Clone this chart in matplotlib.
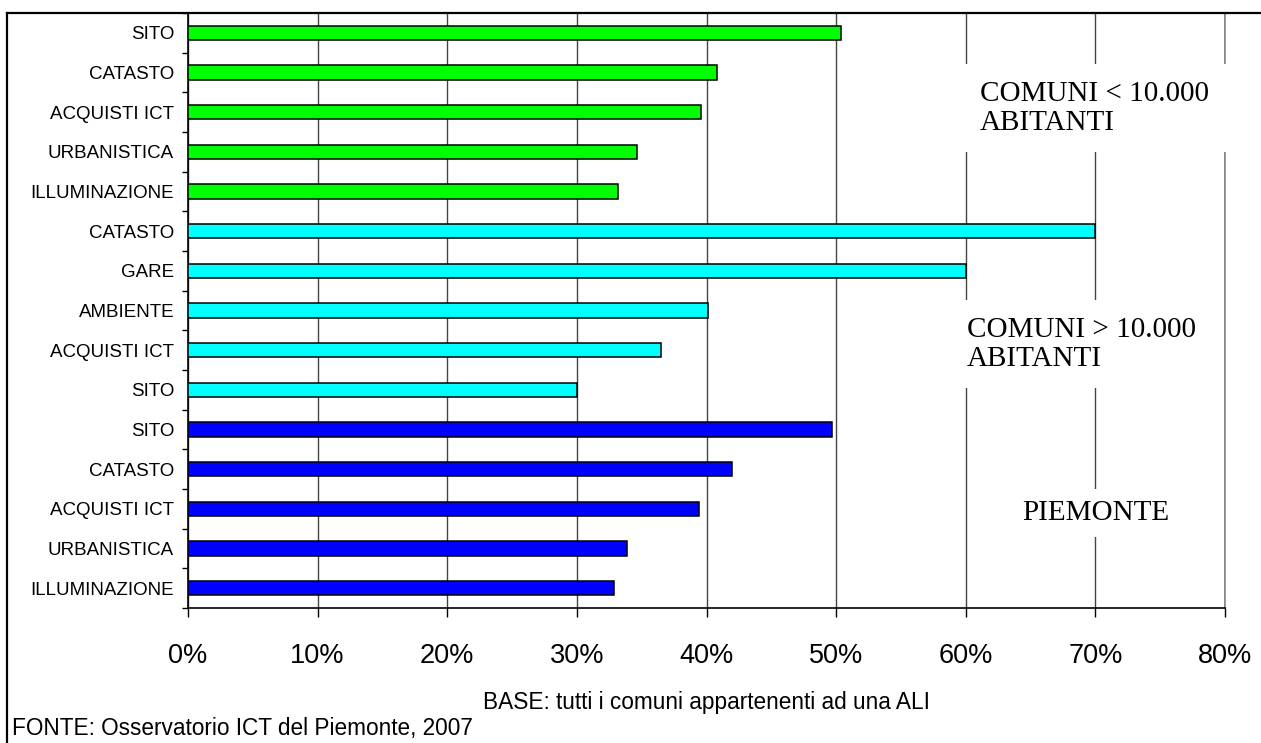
import matplotlib.pyplot as plt
from matplotlib.lines import Line2D
from matplotlib import font_manager
import numpy as np

# dati (valori in %)
piccoli_lab = ["SITO", "CATASTO", "ACQUISTI ICT", "URBANISTICA", "ILLUMINAZIONE"]
piccoli_val = [50.4, 40.8, 39.6, 34.6, 33.2]
grandi_lab = ["CATASTO", "GARE", "AMBIENTE", "ACQUISTI ICT", "SITO"]
grandi_val = [70.0, 60.0, 40.1, 36.5, 30.0]
piem_lab = ["SITO", "CATASTO", "ACQUISTI ICT", "URBANISTICA", "ILLUMINAZIONE"]
piem_val = [49.7, 42.0, 39.4, 33.9, 32.9]
x_ticks = [0, 10, 20, 30, 40, 50, 60, 70, 80]

gruppi = [
    (piccoli_lab, piccoli_val, "#00ff00"),
    (grandi_lab, grandi_val, "#00ffff"),
    (piem_lab, piem_val, "#0000ff"),
]

sans = ["Liberation Sans", "DejaVu Sans"]
serif = ["Liberation Serif", "DejaVu Serif"]

# etichette y in carattere stretto, se c'è
nomi = {f.name for f in font_manager.fontManager.ttflist}
if "Liberation Sans Narrow" in nomi:
    y_font, y_size = ["Liberation Sans Narrow"], 16
else:
    y_font, y_size = sans, 13.5

fig = plt.figure(figsize=(12.61, 7.43), dpi=100)
ax = fig.add_axes([188 / 1261, 1 - 608 / 743, (1225 - 188) / 1261, (608 - 13) / 743])

etichette = []
pos = 0
for lab, val, col in gruppi:
    y = np.arange(pos, pos + len(val))
    ax.barh(y, val, height=0.36, color=col, edgecolor="black", linewidth=1.1, zorder=3)
    etichette += lab
    pos += len(val)

n = len(etichette)
ax.set_ylim(n - 0.5, -0.5)
ax.set_xlim(0, 80)

# tacche ai bordi delle categorie, etichette al centro
ax.set_yticks(np.arange(n + 1) - 0.5)
ax.set_yticklabels([])
ax.set_yticks(np.arange(n), minor=True)
ax.set_yticklabels(etichette, minor=True, family=y_font, fontsize=y_size)
ax.tick_params(axis="y", which="major", direction="out", length=4.5, width=1)
ax.tick_params(axis="y", which="minor", length=0, pad=10)

ax.set_xticks(x_ticks)
ax.set_xticklabels([f"{v}%" for v in x_ticks], family=sans, fontsize=19.5)
ax.tick_params(axis="x", direction="out", length=6.5, width=1, pad=19)

ax.grid(axis="x", color="#444444", linewidth=1, zorder=0)
ax.set_axisbelow(True)
# ultima linea verticale (80%) un po' più chiara
ax.axvline(80, color="#888888", linewidth=1.2, clip_on=False, zorder=0)
for s in ["top", "right"]:
    ax.spines[s].set_visible(False)
ax.spines["left"].set_linewidth(1.2)
ax.spines["bottom"].set_linewidth(1.2)

box = dict(facecolor="white", edgecolor="none", pad=12)
ax.text(61.1, 1.9, "COMUNI < 10.000\nABITANTI", family=serif, fontsize=21,
        ha="left", va="center", linespacing=1.15, bbox=box, zorder=5)
ax.text(60.1, 7.85, "COMUNI > 10.000\nABITANTI", family=serif, fontsize=21,
        ha="left", va="center", linespacing=1.15, bbox=box, zorder=5)
ax.text(70, 12.1, "PIEMONTE", family=serif, fontsize=21,
        ha="center", va="center", bbox=dict(facecolor="white", edgecolor="none", pad=8), zorder=5)

fig.text(706 / 1261, 1 - 702 / 743, "BASE: tutti i comuni appartenenti ad una ALI",
         family=sans, fontsize=16.3, ha="center", va="center")
fig.text(12 / 1261, 1 - 728 / 743, "FONTE: Osservatorio ICT del Piemonte, 2007",
         family=sans, fontsize=16.3, ha="left", va="center")

# cornice esterna (lato superiore e sinistro)
fig.add_artist(Line2D([7 / 1261, 1], [1 - 13 / 743, 1 - 13 / 743], color="black", linewidth=1.6,
                      transform=fig.transFigure))
fig.add_artist(Line2D([7 / 1261, 7 / 1261], [0, 1 - 13 / 743], color="black", linewidth=1.6,
                      transform=fig.transFigure))

fig.savefig("out.png", dpi=100)
